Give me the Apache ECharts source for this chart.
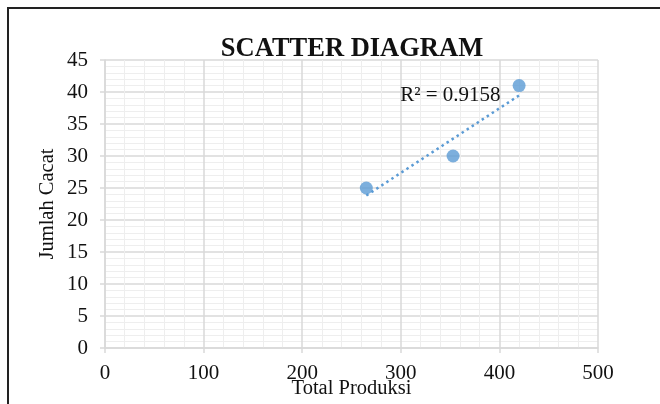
<!DOCTYPE html>
<html>
<head>
<meta charset="utf-8">
<script src="https://cdn.jsdelivr.net/npm/echarts@6/dist/echarts.min.js"></script>
<style>html,body{margin:0;padding:0;background:#fff;}#c{width:660px;height:404px;}</style>
</head>
<body>
<div id="c"></div>
<script>
var totalProduksi = [265, 353, 420];
var jumlahCacat = [25, 30, 41];
var rSquaredText = 'R² = 0.9158';
var xTicks = [0, 100, 200, 300, 400, 500];
var yTicks = [0, 5, 10, 15, 20, 25, 30, 35, 40, 45];

var n = totalProduksi.length;
var mx = totalProduksi.reduce(function(a,b){return a+b;},0)/n;
var my = jumlahCacat.reduce(function(a,b){return a+b;},0)/n;
var sxy = 0, sxx = 0;
for (var i = 0; i < n; i++) { sxy += (totalProduksi[i]-mx)*(jumlahCacat[i]-my); sxx += (totalProduksi[i]-mx)*(totalProduksi[i]-mx); }
var slope = sxy/sxx, icpt = my - slope*mx;
var xMin = Math.min.apply(null,totalProduksi), xMax = Math.max.apply(null,totalProduksi);
var trend = [[xMin, icpt+slope*xMin], [xMax, icpt+slope*xMax]];

var FONT = "'Liberation Serif', 'Times New Roman', serif";
var chart = echarts.init(document.getElementById('c'), null, {renderer:'canvas'});
chart.setOption({
  animation: false,
  backgroundColor: '#fff',
  graphic: [{type:'rect', shape:{x:8, y:8, width:720, height:500}, style:{fill:'none', stroke:'#222', lineWidth:2}, silent:true}],
  title: {text:'SCATTER DIAGRAM', left:347, top:31, textAlign:'center',
    textStyle:{fontFamily:FONT, fontWeight:'bold', fontSize:26.5, color:'#111'}},
  grid: {left:105, right:62, top:60, bottom:56, containLabel:false, outerBoundsMode:'none'},
  xAxis: {type:'value', min:xTicks[0], max:xTicks[xTicks.length-1], interval:100,
    name:'Total Produksi', nameLocation:'middle', nameGap:30, nameMoveOverlap:false,
    nameTextStyle:{fontFamily:FONT, fontSize:20.5, color:'#111'},
    axisLine:{show:true, lineStyle:{color:'#d9d9d9', width:1.5}},
    axisTick:{show:true, length:5, lineStyle:{color:'#d9d9d9', width:1.5}},
    axisLabel:{fontFamily:FONT, fontSize:21, color:'#111', margin:15},
    splitLine:{show:true, lineStyle:{color:'#d9d9d9', width:1.5}},
    minorTick:{show:false, splitNumber:5},
    minorSplitLine:{show:true, lineStyle:{color:'#eeeeee', width:1}}},
  yAxis: {type:'value', min:yTicks[0], max:yTicks[yTicks.length-1], interval:5,
    name:'Jumlah Cacat', nameLocation:'middle', nameGap:47, nameMoveOverlap:false,
    nameTextStyle:{fontFamily:FONT, fontSize:20.5, color:'#111'},
    axisLine:{show:true, lineStyle:{color:'#d9d9d9', width:1.5}},
    axisTick:{show:true, length:5, lineStyle:{color:'#d9d9d9', width:1.5}},
    axisLabel:{fontFamily:FONT, fontSize:21, color:'#111', margin:17},
    splitLine:{show:true, lineStyle:{color:'#d9d9d9', width:1.5}},
    minorTick:{show:false, splitNumber:5},
    minorSplitLine:{show:true, lineStyle:{color:'#eeeeee', width:1}}},
  series: [
    {type:'line', data:trend, showSymbol:false, symbol:'none', z:2,
      lineStyle:{color:'#5b9bd5', width:2.5, type:[2.5,3.5]},
      markPoint:{symbol:'circle', symbolSize:1, itemStyle:{color:'transparent'},
        data:[{coord:trend[1], label:{show:true, position:'left', distance:18, formatter:rSquaredText,
          fontFamily:FONT, fontSize:21, color:'#111'}}]}},
    {type:'scatter', data:totalProduksi.map(function(x,i){return [x, jumlahCacat[i]];}),
      symbolSize:13, z:3, itemStyle:{color:'#5b9bd5'}}
  ]
});
</script>
</body>
</html>
